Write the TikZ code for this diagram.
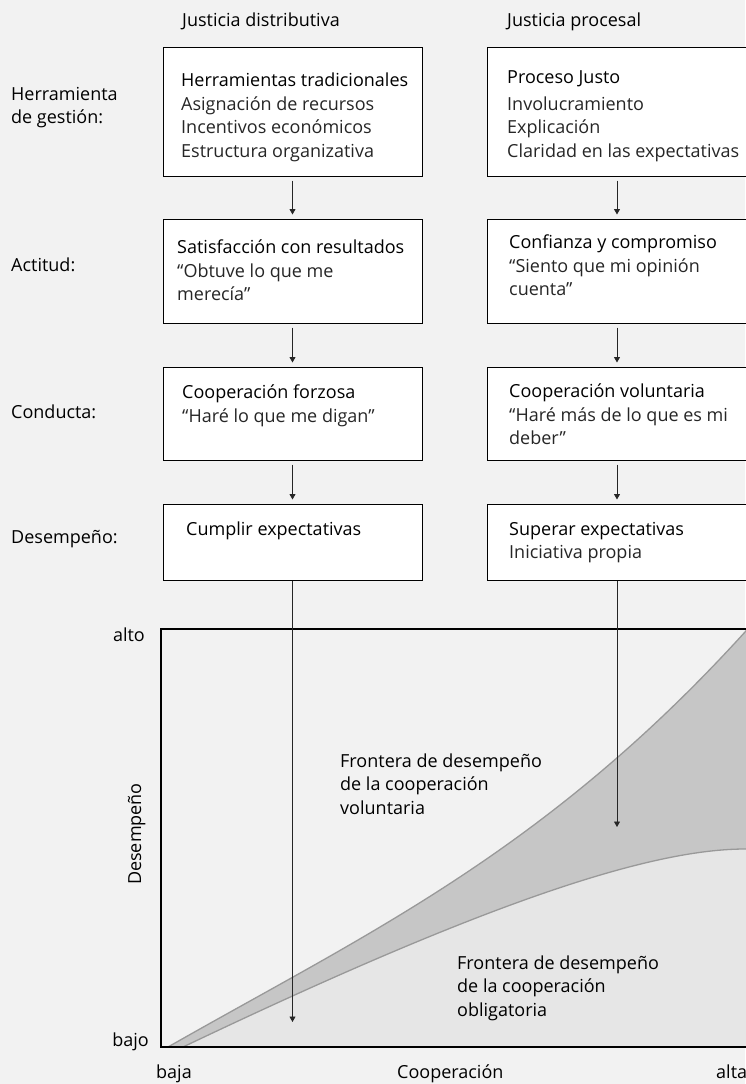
\documentclass[tikz,border=0pt]{standalone}
\usepackage{fontspec}
\setmainfont{Open Sans}
\usetikzlibrary{arrows.meta}
\definecolor{bg}{HTML}{F2F2F2}
\definecolor{band}{HTML}{C6C6C6}
\definecolor{low}{HTML}{E6E6E6}
\definecolor{curvecol}{HTML}{999999}
\newcommand{\mylines}[1]{\begin{tabular}[t]{@{}l@{}}#1\end{tabular}}
\begin{document}
\begin{tikzpicture}[x=1pt,y=-1pt,
  box/.style={draw=black, line width=1pt, fill=white, inner sep=0pt},
  txt/.style={anchor=base west, inner sep=0pt, text=black, font=\fontsize{18}{23.5}\selectfont},
  bodytxt/.style={txt, text=black!85},
  arr/.style={draw=black!85, line width=0.9pt, -{Triangle[length=5.5pt,width=6pt]}},
  gap/.style={shorten <=4pt, shorten >=4pt},
  curveline/.style={draw=curvecol, line width=1.3pt},
  frame/.style={draw=black, line width=1.8pt, line join=miter}]
\useasboundingbox (0,0) rectangle (745,1084);
\fill[bg] (0,0) rectangle (745,1084);

% column headers
\node[txt] (hd1) at (182,27) {Justicia distributiva};
\node[txt] (hd2) at (507,27) {Justicia procesal};

% row labels
\node[txt] (rl1) at (11,100) {\mylines{Herramienta\\de gestión:}};
\node[txt] (rl2) at (11,271) {Actitud:};
\node[txt] (rl3) at (11,418) {Conducta:};
\node[txt] (rl4) at (11,543) {Desempeño:};

% boxes, left column
\node[box, minimum width=259, minimum height=129] (b1l) at (292.5,111.5) {};
\node[box, minimum width=259, minimum height=104] (b2l) at (292.5,271) {};
\node[box, minimum width=259, minimum height=93]  (b3l) at (292.5,413.5) {};
\node[box, minimum width=259, minimum height=76]  (b4l) at (292.5,542) {};
% boxes, right column (run off the right edge)
\node[box, minimum width=283, minimum height=129] (b1r) at (628.5,111.5) {};
\node[box, minimum width=283, minimum height=104] (b2r) at (628.5,271) {};
\node[box, minimum width=283, minimum height=93]  (b3r) at (628.5,413.5) {};
\node[box, minimum width=283, minimum height=76]  (b4r) at (628.5,542) {};

% box texts
\node[txt] (t1l) at (181,86) {Herramientas tradicionales};
\node[bodytxt] (s1l) at (181,110) {\mylines{Asignación de recursos\\Incentivos económicos\\Estructura organizativa}};
\node[txt] (t1r) at (507,83) {Proceso Justo};
\node[bodytxt] (s1r) at (507,110) {\mylines{Involucramiento\\Explicación\\Claridad en las expectativas}};

\node[txt] (t2l) at (177,253) {Satisfacción con resultados};
\node[bodytxt] (s2l) at (177,277) {\mylines{“Obtuve lo que me\\merecía”}};
\node[txt] (t2r) at (509,248) {Confianza y compromiso};
\node[bodytxt] (s2r) at (509,272) {\mylines{“Siento que mi opinión\\cuenta”}};

\node[txt] (t3l) at (182,398) {Cooperación forzosa};
\node[bodytxt] (s3l) at (182,422) {“Haré lo que me digan”};
\node[txt] (t3r) at (509,397) {Cooperación voluntaria};
\node[bodytxt] (s3r) at (509,421) {\mylines{“Haré más de lo que es mi\\deber”}};

\node[txt] (t4l) at (186,535) {Cumplir expectativas};
\node[txt] (t4r) at (509,535) {Superar expectativas};
\node[bodytxt] (s4r) at (509,558) {Iniciativa propia};

% chart areas
\fill[band] (168,1047) .. controls (368,933) and (545,852) .. (745,632) -- (770,600) -- (770,1047) -- cycle;
\fill[low] (183,1047) .. controls (460,915) and (640,849) .. (745,849) -- (770,849) -- (770,1047) -- cycle;
\draw[curveline] (168,1047) .. controls (368,933) and (545,852) .. (745,632) -- (770,600);
\draw[curveline] (183,1047) .. controls (460,915) and (640,849) .. (745,849) -- (770,849);
\draw[frame] (775,629) -- (161,629) -- (161,1047) -- (775,1047);

% chart labels
\node[txt, anchor=base east] (alto) at (145,641) {alto};
\node[txt, anchor=base east] (bajo) at (149,1046) {bajo};
\node[txt] (baja) at (156,1078) {baja};
\node[txt] (coop) at (397,1078) {Cooperación};
\node[txt] (alta) at (716,1078) {alta};
\node[txt, rotate=90, anchor=base] (desem) at (141,834) {Desempeño};
\node[txt] (fv) at (340,767) {\mylines{Frontera de desempeño\\de la cooperación\\voluntaria}};
\node[txt] (fo) at (457,969) {\mylines{Frontera de desempeño\\de la cooperación\\obligatoria}};

% connectors
\coordinate (rx) at (617,0);
\coordinate (endL) at (292.5,1022);
\coordinate (endR) at (617,827);
\draw[arr, gap] (b1l.south) -- (b2l.north);
\draw[arr, gap] (b2l.south) -- (b3l.north);
\draw[arr, gap] (b3l.south) -- (b4l.north);
\draw[arr, gap] (b1r.south -| rx) -- (b2r.north -| rx);
\draw[arr, gap] (b2r.south -| rx) -- (b3r.north -| rx);
\draw[arr, gap] (b3r.south -| rx) -- (b4r.north -| rx);
\draw[arr] (b4l.south) -- (endL);
\draw[arr] (b4r.south -| rx) -- (endR);
\end{tikzpicture}
\end{document}
